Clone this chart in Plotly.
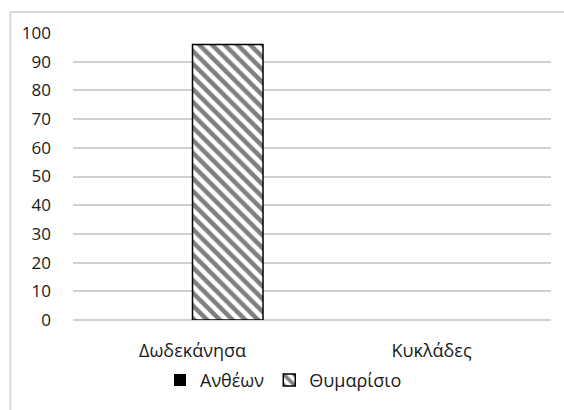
import plotly.graph_objects as go

categories = ["Δωδεκάνησα", "Κυκλάδες"]
antheon = [0, 0]
thymarisio = [96, 0]
series_names = ["Ανθέων", "Θυμαρίσιο"]
y_ticks = [0, 10, 20, 30, 40, 50, 60, 70, 80, 90, 100]

font_family = "Open Sans, DejaVu Sans, sans-serif"

def border_widths(vals):
    return [1.5 if v > 0 else 0 for v in vals]

fig = go.Figure()
fig.add_trace(go.Bar(
    x=categories, y=antheon, name=series_names[0],
    marker=dict(color="black", line=dict(color="black", width=border_widths(antheon))),
))
fig.add_trace(go.Bar(
    x=categories, y=thymarisio, name=series_names[1],
    marker=dict(
        color="white",
        line=dict(color="black", width=border_widths(thymarisio)),
        pattern=dict(shape="\\", fgcolor="black", bgcolor="white", size=9, solidity=0.5),
    ),
))

fig.update_layout(
    width=564, height=410,
    margin=dict(l=73, r=13, t=33, b=90, autoexpand=False),
    paper_bgcolor="white", plot_bgcolor="white",
    barmode="group", bargap=0.41, bargroupgap=0,
    font=dict(family=font_family, size=18, color="#1a1a1a"),
    showlegend=True,
    legend=dict(orientation="h", x=0.182, xanchor="left", y=-0.21, yanchor="middle",
                font=dict(size=18), itemwidth=30, traceorder="normal"),
    xaxis=dict(showgrid=False, showline=False, ticks="", ticklabelstandoff=18),
    yaxis=dict(range=[0, 100], tickvals=y_ticks, showgrid=True, gridcolor="#d0d0d0",
               gridwidth=1.5, zeroline=True, zerolinecolor="#d0d0d0", zerolinewidth=1.5,
               showline=False, ticks="", ticklabelstandoff=21, tickfont=dict(size=17)),
    shapes=[
        dict(type="line", xref="paper", yref="paper", x0=-0.131, x1=1.1, y0=1.073, y1=1.073,
             line=dict(color="#d9d9d9", width=2)),
        dict(type="line", xref="paper", yref="paper", x0=-0.131, x1=-0.131, y0=1.073, y1=-0.4,
             line=dict(color="#d9d9d9", width=2)),
    ],
)

fig.write_html("out.html", config={"displayModeBar": False},
               post_script="document.body.style.margin='0';document.body.style.overflow='hidden';")
